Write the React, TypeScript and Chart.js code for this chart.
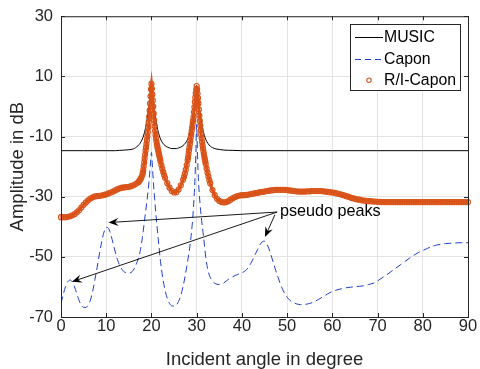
import React, { useEffect, useRef } from 'react';
import { Chart, registerables } from 'chart.js';

Chart.register(...registerables);

// ---------- data ----------
const xTicks = [0, 10, 20, 30, 40, 50, 60, 70, 80, 90];
const yTicks = [-70, -50, -30, -10, 10, 30];
const seriesNames = ['MUSIC', 'Capon', 'R/I-Capon'];
const xTitle = 'Incident angle in degree';
const yTitle = 'Amplitude in dB';

// [angle (deg), amplitude (dB)]
const music: [number, number][] = [
  [0, -14.7], [5, -14.7], [10, -14.7], [12, -14.7], [13, -14.6], [14, -14.5], [15, -14.4],
  [16, -14.1], [16.5, -13.7], [17, -13.1], [17.5, -12.2], [18, -10.8], [18.3, -9.5],
  [18.6, -7.8], [18.9, -5.3], [19.1, -3.5], [19.3, -1.4], [19.5, 0.9], [19.6, 2.2],
  [19.7, 3.5], [19.8, 4.8], [19.9, 6.3], [20, 7.4], [20.1, 6.3], [20.2, 4.8], [20.3, 3.5],
  [20.4, 2.2], [20.5, 0.9], [20.7, -1.4], [20.9, -3.5], [21.1, -5.3], [21.4, -7.8],
  [21.7, -9.5], [22, -10.8], [22.5, -12.2], [23, -13.0], [23.5, -13.5], [24, -13.8],
  [24.5, -14.0], [25, -14.0], [25.5, -14.0], [26, -13.8], [26.5, -13.5], [27, -13.0],
  [27.5, -12.2], [28, -10.9], [28.3, -9.6], [28.6, -7.9], [28.9, -5.5], [29.1, -3.8],
  [29.3, -1.7], [29.5, 0.5], [29.6, 1.8], [29.7, 3.1], [29.8, 4.4], [29.9, 5.8], [30, 7.0],
  [30.1, 5.8], [30.2, 4.4], [30.3, 3.1], [30.4, 1.8], [30.5, 0.5], [30.7, -1.7], [30.9, -3.8],
  [31.1, -5.5], [31.4, -7.9], [31.7, -9.6], [32, -10.9], [32.5, -12.3], [33, -13.2],
  [33.5, -13.7], [34, -14.0], [35, -14.3], [36, -14.5], [38, -14.6], [40, -14.7], [50, -14.7],
  [60, -14.7], [70, -14.7], [80, -14.7], [90, -14.7],
];

const capon: [number, number][] = [
  [0, -65.5], [0.5, -62.5], [1, -59.9], [1.5, -58.3], [2, -57.7], [2.5, -58.3], [3, -60.0],
  [3.5, -62.3], [4, -64.5], [4.5, -66.1], [5, -66.8], [5.5, -66.8], [6, -66.1], [6.5, -64.4],
  [7, -61.5], [7.5, -57.6], [8, -53.4], [8.5, -49.0], [9, -45.0], [9.5, -41.8], [10, -40.2],
  [10.5, -40.5], [11, -42.5], [11.5, -45.4], [12, -48.4], [12.5, -51.0], [13, -52.9],
  [13.5, -54.2], [14, -55.0], [14.5, -55.3], [15, -55.4], [15.5, -55.2], [16, -54.4],
  [16.5, -53.0], [17, -51.0], [17.5, -48.2], [18, -43.5], [18.5, -37.5], [19, -31.5],
  [19.3, -27.5], [19.6, -22.5], [19.8, -18.5], [20, -15.3], [20.2, -19.5], [20.4, -24.5],
  [20.7, -30.5], [21, -36.0], [21.5, -44.0], [22, -51.5], [22.5, -57.0], [23, -61.0],
  [23.5, -63.8], [24, -65.5], [24.5, -66.3], [25, -66.4], [25.5, -66.0], [26, -64.8],
  [26.5, -62.8], [27, -59.8], [27.5, -56.0], [28, -51.5], [28.5, -46.5], [29, -39.5],
  [29.3, -33.5], [29.6, -25.0], [29.8, -16.5], [30, -6.0], [30.2, -16.5], [30.4, -24.5],
  [30.7, -31.5], [31.1, -38.0], [31.5, -43.0], [32, -50.0], [32.5, -54.5], [33, -56.8],
  [33.5, -58.0], [34, -58.8], [34.5, -59.1], [35, -59.2], [35.5, -59.1], [36, -58.7],
  [36.5, -58.1], [37, -57.5], [37.5, -57.0], [38, -56.6], [38.5, -56.2], [39, -55.9],
  [39.5, -55.6], [40, -55.3], [40.5, -54.9], [41, -54.3], [41.5, -53.4], [42, -52.1],
  [42.5, -50.6], [43, -49.0], [43.5, -47.5], [44, -46.0], [44.5, -45.0], [45, -44.8],
  [45.5, -45.6], [46, -47.4], [46.5, -49.7], [47, -52.2], [47.5, -54.6], [48, -56.8],
  [48.5, -59.0], [49, -60.8], [49.5, -62.3], [50, -63.4], [50.5, -64.3], [51, -64.9],
  [51.5, -65.3], [52, -65.6], [52.5, -65.8], [53, -65.9], [53.5, -65.9], [54, -65.8],
  [55, -65.5], [56, -64.9], [57, -64.1], [58, -63.2], [59, -62.3], [60, -61.5], [61, -61.0],
  [62, -60.6], [63, -60.3], [64, -60.1], [65, -59.9], [66, -59.8], [67, -59.6], [68, -59.2],
  [69, -58.8], [70, -58.0], [71, -57.0], [72, -56.0], [73, -54.9], [74, -53.8], [75, -52.7],
  [76, -51.6], [77, -50.5], [78, -49.5], [79, -48.6], [80, -47.9], [81, -47.2], [82, -46.6],
  [83, -46.1], [84, -45.8], [85, -45.6], [86, -45.5], [87, -45.4], [88, -45.3], [89, -45.3],
  [90, -45.3],
];

const riCapon: [number, number][] = [
  [0, -36.8], [0.5, -36.8], [1, -36.8], [1.5, -36.7], [2, -36.5], [2.5, -36.2], [3, -35.8],
  [3.5, -35.2], [4, -34.5], [4.5, -33.6], [5, -32.7], [5.5, -31.9], [6, -31.2], [6.5, -30.6],
  [7, -30.2], [7.5, -29.9], [8, -29.8], [8.5, -29.7], [9, -29.6], [9.5, -29.4], [10, -29.2],
  [10.5, -28.9], [11, -28.6], [11.5, -28.3], [12, -27.9], [12.5, -27.5], [13, -27.2],
  [13.5, -27.0], [14, -26.9], [14.5, -26.8], [15, -26.7], [15.5, -26.5], [16, -26.2],
  [16.5, -25.8], [17, -25.3], [17.2, -25.0], [17.4, -24.6], [17.6, -24.1], [17.8, -23.5],
  [18.0, -22.7], [18.1, -22.0], [18.2, -21.1], [18.3, -19.9], [18.4, -18.6], [18.5, -17.3],
  [18.6, -16.0], [18.7, -14.7], [18.8, -13.6], [18.9, -12.5], [19.0, -11.3], [19.1, -10.0],
  [19.2, -8.6], [19.3, -7.0], [19.4, -5.3], [19.5, -3.4], [19.6, -1.3], [19.7, 1.0],
  [19.8, 3.4], [19.9, 5.7], [20.0, 7.5], [20.1, 5.9], [20.2, 4.0], [20.3, 2.0], [20.4, 0.0],
  [20.5, -2.4], [20.6, -4.6], [20.7, -6.5], [20.8, -8.1], [20.9, -9.4], [21.0, -10.6],
  [21.1, -11.6], [21.2, -12.5], [21.3, -13.3], [21.4, -14.0], [21.5, -14.7], [21.6, -15.4],
  [21.7, -16.1], [21.8, -16.8], [21.9, -17.5], [22.0, -18.2], [22.2, -19.5], [22.4, -20.7],
  [22.6, -21.8], [22.8, -22.8], [23.0, -23.7], [23.5, -25.5], [24.0, -27.0], [24.5, -28.1],
  [25.0, -28.6], [25.5, -28.5], [26.0, -27.6], [26.5, -26.2], [27.0, -24.4], [27.2, -23.4],
  [27.4, -22.3], [27.6, -21.0], [27.8, -19.5], [28.0, -17.9], [28.1, -17.0], [28.2, -15.9],
  [28.3, -14.7], [28.4, -13.6], [28.5, -12.5], [28.6, -11.4], [28.7, -10.3], [28.8, -9.2],
  [28.9, -8.1], [29.0, -7.0], [29.1, -5.9], [29.2, -4.8], [29.3, -3.5], [29.4, -1.9],
  [29.5, -0.2], [29.6, 1.5], [29.7, 3.0], [29.8, 4.4], [29.9, 5.7], [30.0, 6.8], [30.1, 5.7],
  [30.2, 4.3], [30.3, 2.8], [30.4, 1.0], [30.5, -1.0], [30.6, -3.0], [30.7, -4.8],
  [30.8, -6.4], [30.9, -7.9], [31.0, -9.3], [31.1, -10.6], [31.2, -11.8], [31.3, -12.9],
  [31.4, -13.9], [31.5, -14.9], [31.6, -15.8], [31.7, -16.7], [31.8, -17.5], [31.9, -18.3],
  [32.0, -19.1], [32.2, -20.6], [32.4, -22.0], [32.6, -23.3], [32.8, -24.5], [33.0, -25.6],
  [33.5, -27.8], [34.0, -29.5], [34.5, -30.7], [35.0, -31.4], [35.5, -31.8], [36.0, -31.9],
  [36.5, -31.8], [37.0, -31.5], [37.5, -31.0], [38.0, -30.5], [38.5, -30.1], [39.0, -29.8],
  [39.5, -29.6], [40.0, -29.5], [40.5, -29.5], [41, -29.4], [41.5, -29.3], [42, -29.1],
  [42.5, -29.0], [43, -28.8], [43.5, -28.7], [44, -28.5], [44.5, -28.4], [45, -28.3],
  [45.5, -28.1], [46, -28.0], [46.5, -27.9], [47, -27.8], [47.5, -27.7], [48, -27.7],
  [48.5, -27.7], [49, -27.7], [49.5, -27.7], [50, -27.8], [50.5, -27.9], [51, -28.0],
  [51.5, -28.1], [52, -28.2], [52.5, -28.3], [53, -28.3], [53.5, -28.3], [54, -28.3],
  [54.5, -28.2], [55, -28.2], [55.5, -28.1], [56, -28.1], [56.5, -28.1], [57, -28.1],
  [57.5, -28.1], [58, -28.2], [58.5, -28.3], [59, -28.4], [59.5, -28.5], [60, -28.6],
  [60.5, -28.7], [61, -28.9], [61.5, -29.1], [62, -29.3], [62.5, -29.5], [63, -29.8],
  [63.5, -30.0], [64, -30.3], [64.5, -30.5], [65, -30.7], [65.5, -30.9], [66, -31.0],
  [66.5, -31.2], [67, -31.3], [67.5, -31.4], [68, -31.5], [68.5, -31.5], [69, -31.6],
  [69.5, -31.6], [70, -31.7], [70.5, -31.7], [71, -31.8], [71.5, -31.8], [72, -31.8],
  [72.5, -31.8], [73, -31.8], [73.5, -31.8], [74, -31.8], [74.5, -31.8], [75, -31.8],
  [75.5, -31.8], [76, -31.8], [76.5, -31.8], [77, -31.8], [77.5, -31.8], [78, -31.8],
  [78.5, -31.8], [79, -31.8], [79.5, -31.8], [80, -31.8], [80.5, -31.8], [81, -31.8],
  [81.5, -31.8], [82, -31.8], [82.5, -31.8], [83, -31.8], [83.5, -31.8], [84, -31.8],
  [84.5, -31.8], [85, -31.8], [85.5, -31.8], [86, -31.8], [86.5, -31.8], [87, -31.8],
  [87.5, -31.8], [88, -31.8], [88.5, -31.8], [89, -31.8], [89.5, -31.8], [90, -31.8],
];

// annotation (data coordinates)
const annotationText = 'pseudo peaks';
const arrowTips: [number, number][] = [[10.5, -38.6], [2.4, -58.3], [45.1, -43.4]];
const arrowTails: [number, number][] = [[47.8, -35.1], [47.8, -35.1], [47.3, -36.0]];
const textAnchor: [number, number] = [48.4, -36.3];

// ---------- style ----------
const FONT = "'Liberation Sans', Arial, Helvetica, sans-serif";
const AXIS = '#262626';
const ORANGE = '#D95319';
const BLUE = '#2040C8';
const GRID = '#e3e3e3';

const overlayPlugin = {
  id: 'overlay',
  afterDraw(chart: any) {
    const { ctx, chartArea: ca, scales } = chart;
    const xs = scales.x;
    const ys = scales.y;
    ctx.save();

    // inward ticks
    ctx.strokeStyle = AXIS;
    ctx.lineWidth = 1;
    ctx.setLineDash([]);
    ctx.beginPath();
    xTicks.forEach((v) => {
      const px = Math.round(xs.getPixelForValue(v)) + 0.5;
      ctx.moveTo(px, ca.bottom);
      ctx.lineTo(px, ca.bottom - 4);
      ctx.moveTo(px, ca.top);
      ctx.lineTo(px, ca.top + 4);
    });
    yTicks.forEach((v) => {
      const py = Math.round(ys.getPixelForValue(v)) + 0.5;
      ctx.moveTo(ca.left, py);
      ctx.lineTo(ca.left + 4, py);
      ctx.moveTo(ca.right, py);
      ctx.lineTo(ca.right - 4, py);
    });
    ctx.stroke();
    // box
    ctx.strokeRect(ca.left + 0.5, ca.top + 0.5, ca.right - ca.left, ca.bottom - ca.top);

    // axis titles
    ctx.fillStyle = AXIS;
    ctx.font = `18.5px ${FONT}`;
    ctx.textAlign = 'center';
    ctx.textBaseline = 'alphabetic';
    ctx.fillText(xTitle, (ca.left + ca.right) / 2, ca.bottom + 48);
    ctx.save();
    ctx.translate(ca.left - 38, (ca.top + ca.bottom) / 2);
    ctx.rotate(-Math.PI / 2);
    ctx.fillText(yTitle, 0, 0);
    ctx.restore();

    // arrows
    ctx.strokeStyle = '#000';
    ctx.fillStyle = '#000';
    ctx.lineWidth = 0.9;
    arrowTips.forEach((tip, i) => {
      const tx = xs.getPixelForValue(tip[0]);
      const ty = ys.getPixelForValue(tip[1]);
      const sx = xs.getPixelForValue(arrowTails[i][0]);
      const sy = ys.getPixelForValue(arrowTails[i][1]);
      const dx = tx - sx;
      const dy = ty - sy;
      const len = Math.hypot(dx, dy);
      const ux = dx / len;
      const uy = dy / len;
      const nx = -uy;
      const ny = ux;
      const hl = 10;
      const hw = 4;
      ctx.beginPath();
      ctx.moveTo(sx, sy);
      ctx.lineTo(tx - ux * 6, ty - uy * 6);
      ctx.stroke();
      ctx.beginPath();
      ctx.moveTo(tx, ty);
      ctx.lineTo(tx - ux * hl + nx * hw, ty - uy * hl + ny * hw);
      ctx.lineTo(tx - ux * 6.5, ty - uy * 6.5);
      ctx.lineTo(tx - ux * hl - nx * hw, ty - uy * hl - ny * hw);
      ctx.closePath();
      ctx.fill();
    });
    ctx.font = `16.2px ${FONT}`;
    ctx.textAlign = 'left';
    ctx.textBaseline = 'alphabetic';
    ctx.fillStyle = '#000';
    ctx.fillText(annotationText, xs.getPixelForValue(textAnchor[0]), ys.getPixelForValue(textAnchor[1]));

    // legend
    const lgW = 110;
    const lgH = 66;
    const lgRight = ca.right - 8;
    const lgTop = ca.top + 8;
    const lgLeft = lgRight - lgW;
    ctx.fillStyle = '#fff';
    ctx.fillRect(lgLeft, lgTop, lgW, lgH);
    ctx.strokeStyle = AXIS;
    ctx.lineWidth = 1;
    ctx.strokeRect(Math.round(lgLeft) + 0.5, Math.round(lgTop) + 0.5, lgW, lgH);
    const rows = [lgTop + 13, lgTop + 35, lgTop + 56];
    const s0 = lgLeft + 5;
    const s1 = lgLeft + 33;
    // MUSIC
    ctx.strokeStyle = '#000';
    ctx.beginPath();
    ctx.moveTo(s0, Math.round(rows[0]) + 0.5);
    ctx.lineTo(s1, Math.round(rows[0]) + 0.5);
    ctx.stroke();
    // Capon
    ctx.strokeStyle = BLUE;
    ctx.setLineDash([6, 4]);
    ctx.beginPath();
    ctx.moveTo(s0, Math.round(rows[1]) + 0.5);
    ctx.lineTo(s1, Math.round(rows[1]) + 0.5);
    ctx.stroke();
    ctx.setLineDash([]);
    // R/I-Capon
    ctx.strokeStyle = ORANGE;
    ctx.lineWidth = 1.1;
    ctx.beginPath();
    ctx.arc((s0 + s1) / 2, rows[2], 2.2, 0, Math.PI * 2);
    ctx.stroke();
    ctx.fillStyle = '#000';
    ctx.font = `15.8px ${FONT}`;
    ctx.textAlign = 'left';
    ctx.textBaseline = 'middle';
    seriesNames.forEach((n, i) => ctx.fillText(n, s1 + 1, rows[i]));

    ctx.restore();
  },
};

export default function App() {
  const ref = useRef<HTMLCanvasElement>(null);
  useEffect(() => {
    if (!ref.current) return;
    const chart = new Chart(ref.current, {
      type: 'scatter',
      data: {
        datasets: [
          {
            label: seriesNames[0],
            data: music.map(([x, y]) => ({ x, y })),
            showLine: true,
            borderColor: '#000',
            borderWidth: 1,
            pointRadius: 0,
            cubicInterpolationMode: 'monotone',
            order: 3,
          },
          {
            label: seriesNames[1],
            data: capon.map(([x, y]) => ({ x, y })),
            showLine: true,
            borderColor: BLUE,
            borderWidth: 1,
            borderDash: [7, 4],
            pointRadius: 0,
            cubicInterpolationMode: 'monotone',
            order: 2,
          },
          {
            label: seriesNames[2],
            data: riCapon.map(([x, y]) => ({ x, y })),
            showLine: true,
            borderColor: ORANGE,
            borderWidth: 3,
            pointRadius: 2.5,
            pointBorderWidth: 1.2,
            pointBorderColor: ORANGE,
            pointBackgroundColor: 'rgba(0,0,0,0)',
            clip: false as any,
            order: 1,
          },
        ] as any,
      },
      options: {
        responsive: false,
        devicePixelRatio: 1,
        animation: false,
        events: [],
        layout: { padding: { left: 0, top: 15, right: 12, bottom: 0 } },
        plugins: { legend: { display: false }, tooltip: { enabled: false }, title: { display: false } },
        scales: {
          x: {
            type: 'linear',
            min: 0,
            max: 90,
            afterBuildTicks: (s: any) => {
              s.ticks = xTicks.map((v) => ({ value: v }));
            },
            afterFit: (s: any) => {
              s.height = 52;
            },
            grid: { color: GRID, lineWidth: 1, drawTicks: false },
            border: { display: false },
            ticks: {
              autoSkip: false,
              maxRotation: 0,
              padding: 1,
              color: AXIS,
              font: { family: FONT, size: 16.5, lineHeight: 1 },
            },
          },
          y: {
            type: 'linear',
            min: -70,
            max: 30,
            afterBuildTicks: (s: any) => {
              s.ticks = yTicks.map((v) => ({ value: v }));
            },
            afterFit: (s: any) => {
              s.width = 61;
            },
            grid: { color: GRID, lineWidth: 1, drawTicks: false },
            border: { display: false },
            ticks: {
              autoSkip: false,
              padding: 8,
              color: AXIS,
              font: { family: FONT, size: 16.5, lineHeight: 1 },
            },
          },
        },
      } as any,
      plugins: [overlayPlugin],
    });
    return () => chart.destroy();
  }, []);
  return (
    <div style={{ position: 'fixed', left: 0, top: 0, width: 480, height: 369, background: '#fff' }}>
      <canvas ref={ref} width={480} height={369} style={{ display: 'block', width: 480, height: 369 }} />
    </div>
  );
}
